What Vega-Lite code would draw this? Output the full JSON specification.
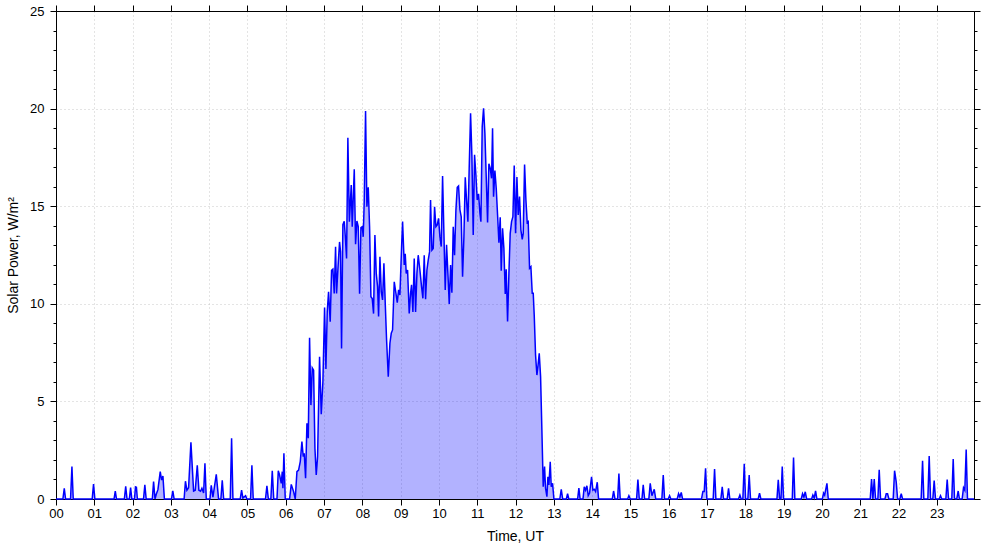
{
  "$schema": "https://vega.github.io/schema/vega-lite/v6.json",
  "width": 918,
  "height": 488,
  "autosize": {"type": "none"},
  "padding": {"left": 56, "top": 11, "right": 11, "bottom": 48},
  "background": "white",
  "config": {
    "view": {"stroke": null},
    "axis": {
      "labelFont": "Liberation Sans",
      "titleFont": "Liberation Sans",
      "labelFontSize": 13,
      "titleFontSize": 14,
      "titleFontWeight": "normal",
      "labelColor": "black",
      "titleColor": "black",
      "domainColor": "black",
      "tickColor": "black",
      "domainWidth": 1,
      "tickWidth": 1,
      "gridColor": "#c8c8c8",
      "gridDash": [1, 3],
      "gridWidth": 1
    }
  },
  "data": {
    "values": [
      {"t":0,"p":0},{"t":0.18,"p":0},{"t":0.216,"p":0.55},{"t":0.25,"p":0},{"t":0.38,"p":0},{"t":0.416,"p":1.66},{"t":0.45,"p":0},
      {"t":0.945,"p":0},{"t":0.98,"p":0.77},{"t":1.015,"p":0},{"t":1.515,"p":0},{"t":1.548,"p":0.4},{"t":1.58,"p":0},
      {"t":1.785,"p":0},{"t":1.82,"p":0.65},{"t":1.855,"p":0},{"t":1.915,"p":0},{"t":1.948,"p":0.58},{"t":1.98,"p":0},
      {"t":2.05,"p":0},{"t":2.075,"p":0.62},{"t":2.1,"p":0.6},{"t":2.125,"p":0},{"t":2.285,"p":0},{"t":2.32,"p":0.73},{"t":2.355,"p":0},
      {"t":2.515,"p":0},{"t":2.548,"p":0.89},{"t":2.585,"p":0},{"t":2.618,"p":0.24},{"t":2.661,"p":0.48},{"t":2.722,"p":1.4},{"t":2.757,"p":0.97},{"t":2.792,"p":1.18},{"t":2.83,"p":0},
      {"t":3.015,"p":0},{"t":3.05,"p":0.41},{"t":3.085,"p":0},{"t":3.345,"p":0},{"t":3.38,"p":0.91},{"t":3.418,"p":0.45},{"t":3.462,"p":0.58},{"t":3.523,"p":2.9},
      {"t":3.593,"p":0.41},{"t":3.636,"p":0.45},{"t":3.689,"p":1.73},{"t":3.731,"p":0.45},{"t":3.775,"p":0.4},{"t":3.81,"p":0.55},{"t":3.854,"p":0.31},{"t":3.889,"p":1.83},{"t":3.924,"p":0},
      {"t":4.02,"p":0},{"t":4.054,"p":0.7},{"t":4.097,"p":0.1},{"t":4.185,"p":1.26},{"t":4.245,"p":0},{"t":4.305,"p":0},{"t":4.341,"p":0.96},{"t":4.378,"p":0},
      {"t":4.55,"p":0},{"t":4.585,"p":3.11},{"t":4.62,"p":0},{"t":4.81,"p":0},{"t":4.846,"p":0.45},{"t":4.88,"p":0.05},{"t":4.95,"p":0.17},{"t":4.985,"p":0},
      {"t":5.08,"p":0},{"t":5.115,"p":1.73},{"t":5.15,"p":0},{"t":5.47,"p":0},{"t":5.507,"p":0.68},{"t":5.545,"p":0},{"t":5.61,"p":0},{"t":5.647,"p":1.45},{"t":5.685,"p":0},
      {"t":5.77,"p":0},{"t":5.804,"p":1.45},{"t":5.838,"p":1.23},{"t":5.882,"p":0.8},{"t":5.908,"p":1.4},{"t":5.925,"p":0.55},{"t":5.951,"p":2.34},{"t":5.986,"p":0},
      {"t":6.099,"p":0},{"t":6.143,"p":0.75},{"t":6.204,"p":0.38},{"t":6.247,"p":0},{"t":6.291,"p":1.4},{"t":6.334,"p":1.48},{"t":6.378,"p":1.91},{"t":6.421,"p":2.94},
      {"t":6.456,"p":2.17},{"t":6.482,"p":2.34},{"t":6.517,"p":1.06},{"t":6.552,"p":3.88},{"t":6.587,"p":3.11},{"t":6.621,"p":8.26},{"t":6.656,"p":4.81},{"t":6.691,"p":6.72},
      {"t":6.726,"p":6.6},{"t":6.761,"p":2.6},{"t":6.795,"p":1.23},{"t":6.83,"p":2.17},{"t":6.882,"p":7.29},{"t":6.926,"p":4.34},{"t":6.969,"p":6.01},{"t":7.013,"p":9.81},
      {"t":7.048,"p":6.66},{"t":7.082,"p":9.59},{"t":7.117,"p":10.61},{"t":7.16,"p":9.08},{"t":7.195,"p":11.72},{"t":7.23,"p":11.78},{"t":7.265,"p":10.53},{"t":7.3,"p":12.92},
      {"t":7.326,"p":10.53},{"t":7.369,"p":12.06},{"t":7.404,"p":13.17},{"t":7.43,"p":12.66},{"t":7.456,"p":7.71},{"t":7.491,"p":14.06},{"t":7.526,"p":14.23},{"t":7.552,"p":13.51},
      {"t":7.587,"p":12.32},{"t":7.621,"p":18.5},{"t":7.66,"p":14.2},{"t":7.709,"p":16.09},{"t":7.735,"p":13.95},{"t":7.788,"p":16.89},{"t":7.822,"p":13.05},{"t":7.857,"p":14.24},
      {"t":7.892,"p":13.95},{"t":7.927,"p":10.52},{"t":7.962,"p":13.9},{"t":7.997,"p":13.95},{"t":8.022,"p":13.43},{"t":8.049,"p":15.32},{"t":8.083,"p":19.88},{"t":8.118,"p":14.97},
      {"t":8.153,"p":15.97},{"t":8.188,"p":13.95},{"t":8.223,"p":10.36},{"t":8.257,"p":10.27},{"t":8.292,"p":9.5},{"t":8.327,"p":13.52},{"t":8.362,"p":11.56},{"t":8.397,"p":10.88},
      {"t":8.423,"p":9.35},{"t":8.458,"p":12.41},{"t":8.493,"p":10.62},{"t":8.527,"p":10.2},{"t":8.562,"p":12.07},{"t":8.597,"p":10.03},{"t":8.632,"p":8.15},{"t":8.676,"p":6.27},
      {"t":8.719,"p":7.98},{"t":8.754,"p":8.49},{"t":8.788,"p":8.66},{"t":8.832,"p":11.13},{"t":8.876,"p":10.54},{"t":8.911,"p":10.06},{"t":8.945,"p":10.71},{"t":8.98,"p":10.45},
      {"t":9.024,"p":12.93},{"t":9.05,"p":14.21},{"t":9.093,"p":11.99},{"t":9.119,"p":12.56},{"t":9.145,"p":11.56},{"t":9.18,"p":11.73},{"t":9.223,"p":9.5},{"t":9.258,"p":10.54},
      {"t":9.284,"p":10.97},{"t":9.319,"p":9.58},{"t":9.354,"p":12.32},{"t":9.389,"p":9.58},{"t":9.424,"p":11.56},{"t":9.458,"p":12.49},{"t":9.502,"p":11.73},{"t":9.545,"p":10.88},
      {"t":9.58,"p":10.28},{"t":9.615,"p":12.49},{"t":9.65,"p":10.24},{"t":9.685,"p":11.73},{"t":9.719,"p":12.24},{"t":9.754,"p":12.66},{"t":9.78,"p":15.32},{"t":9.815,"p":12.75},
      {"t":9.85,"p":12.84},{"t":9.885,"p":14.97},{"t":9.92,"p":13.95},{"t":9.954,"p":14.04},{"t":9.989,"p":14.38},{"t":10.024,"p":13.44},{"t":10.059,"p":12.93},{"t":10.094,"p":16.55},
      {"t":10.129,"p":13.61},{"t":10.163,"p":10.71},{"t":10.198,"p":13.02},{"t":10.233,"p":11.56},{"t":10.268,"p":9.99},{"t":10.303,"p":11.99},{"t":10.337,"p":10.57},{"t":10.372,"p":13.95},
      {"t":10.407,"p":12.49},{"t":10.442,"p":14.8},{"t":10.477,"p":15.97},{"t":10.511,"p":16.04},{"t":10.546,"p":14.83},{"t":10.581,"p":14.46},{"t":10.616,"p":11.39},{"t":10.651,"p":13.44},
      {"t":10.686,"p":16.48},{"t":10.72,"p":15.32},{"t":10.755,"p":14.21},{"t":10.79,"p":17.03},{"t":10.825,"p":19.76},{"t":10.86,"p":17.54},{"t":10.894,"p":13.52},{"t":10.929,"p":17.63},
      {"t":10.964,"p":16.6},{"t":10.999,"p":15.32},{"t":11.034,"p":15.63},{"t":11.069,"p":14.64},{"t":11.095,"p":14.21},{"t":11.129,"p":19.08},{"t":11.164,"p":20.01},{"t":11.199,"p":18.73},
      {"t":11.234,"p":16.5},{"t":11.269,"p":14.16},{"t":11.303,"p":17.17},{"t":11.338,"p":16.95},{"t":11.373,"p":16.43},{"t":11.399,"p":18.99},{"t":11.425,"p":15.49},{"t":11.46,"p":16.83},
      {"t":11.495,"p":15.92},{"t":11.53,"p":14.55},{"t":11.565,"p":13.13},{"t":11.599,"p":14.43},{"t":11.625,"p":11.7},{"t":11.66,"p":13.87},{"t":11.695,"p":12.84},{"t":11.73,"p":10.5},
      {"t":11.756,"p":11.77},{"t":11.791,"p":9.09},{"t":11.826,"p":11.56},{"t":11.86,"p":13.61},{"t":11.895,"p":14.21},{"t":11.93,"p":14.46},{"t":11.965,"p":17.08},{"t":12.0,"p":13.61},
      {"t":12.035,"p":16.5},{"t":12.069,"p":14.55},{"t":12.104,"p":15.49},{"t":12.139,"p":13.78},{"t":12.174,"p":13.3},{"t":12.2,"p":13.61},{"t":12.235,"p":17.13},{"t":12.27,"p":15.32},
      {"t":12.304,"p":14.16},{"t":12.33,"p":14.21},{"t":12.365,"p":11.82},{"t":12.4,"p":11.9},{"t":12.435,"p":10.54},{"t":12.461,"p":10.54},{"t":12.487,"p":9.42},{"t":12.522,"p":7.37},
      {"t":12.557,"p":6.35},{"t":12.583,"p":6.78},{"t":12.618,"p":7.46},{"t":12.653,"p":6.27},{"t":12.687,"p":3.54},{"t":12.722,"p":0.63},{"t":12.757,"p":1.66},{"t":12.783,"p":0.55},
      {"t":12.818,"p":0.12},{"t":12.844,"p":1.14},{"t":12.87,"p":0.72},{"t":12.905,"p":1.91},{"t":12.931,"p":0.63},{"t":12.966,"p":0.8},{"t":13.001,"p":0},
      {"t":13.155,"p":0},{"t":13.193,"p":0.5},{"t":13.23,"p":0},{"t":13.325,"p":0},{"t":13.358,"p":0.27},{"t":13.39,"p":0},{"t":13.62,"p":0},{"t":13.653,"p":0.56},{"t":13.685,"p":0},
      {"t":13.76,"p":0},{"t":13.793,"p":0.62},{"t":13.828,"p":0.45},{"t":13.862,"p":0.68},{"t":13.897,"p":0.17},{"t":13.932,"p":0.3},{"t":13.984,"p":1.14},{"t":14.019,"p":0.45},
      {"t":14.054,"p":0.5},{"t":14.089,"p":0.38},{"t":14.133,"p":0.86},{"t":14.167,"p":0},{"t":14.525,"p":0},{"t":14.559,"p":0.41},{"t":14.595,"p":0},{"t":14.665,"p":0},{"t":14.698,"p":1.31},{"t":14.732,"p":0},
      {"t":14.925,"p":0},{"t":14.959,"p":0.17},{"t":14.995,"p":0},{"t":15.16,"p":0},{"t":15.194,"p":1.0},{"t":15.23,"p":0},{"t":15.3,"p":0},{"t":15.333,"p":0.73},{"t":15.37,"p":0},
      {"t":15.48,"p":0},{"t":15.516,"p":0.8},{"t":15.56,"p":0.17},{"t":15.621,"p":0.5},{"t":15.66,"p":0},{"t":15.82,"p":0},{"t":15.856,"p":1.23},{"t":15.89,"p":0},
      {"t":15.985,"p":0},{"t":16.021,"p":0.17},{"t":16.055,"p":0},{"t":16.22,"p":0},{"t":16.256,"p":0.27},{"t":16.29,"p":0.1},{"t":16.326,"p":0.34},{"t":16.36,"p":0},
      {"t":16.855,"p":0},{"t":16.891,"p":0.39},{"t":16.926,"p":0.39},{"t":16.961,"p":1.57},{"t":16.995,"p":0},{"t":17.16,"p":0},{"t":17.196,"p":1.54},{"t":17.23,"p":0},
      {"t":17.36,"p":0},{"t":17.396,"p":0.62},{"t":17.43,"p":0},{"t":17.525,"p":0},{"t":17.561,"p":0.55},{"t":17.595,"p":0},{"t":17.82,"p":0},{"t":17.857,"p":0.2},{"t":17.89,"p":0},
      {"t":17.935,"p":0},{"t":17.971,"p":1.8},{"t":18.005,"p":0},{"t":18.065,"p":0},{"t":18.1,"p":1.23},{"t":18.135,"p":0},{"t":18.335,"p":0},{"t":18.37,"p":0.3},{"t":18.405,"p":0},
      {"t":18.825,"p":0},{"t":18.859,"p":0.98},{"t":18.895,"p":0},{"t":18.93,"p":0},{"t":18.963,"p":1.66},{"t":18.998,"p":0},{"t":19.225,"p":0},{"t":19.258,"p":2.13},{"t":19.292,"p":0},
      {"t":19.46,"p":0},{"t":19.493,"p":0.27},{"t":19.528,"p":0.1},{"t":19.564,"p":0.37},{"t":19.6,"p":0},{"t":19.73,"p":0},{"t":19.763,"p":0.2},{"t":19.798,"p":0.05},{"t":19.833,"p":0.41},{"t":19.868,"p":0},
      {"t":20.01,"p":0},{"t":20.042,"p":0.3},{"t":20.07,"p":0.2},{"t":20.13,"p":0.8},{"t":20.165,"p":0},
      {"t":21.26,"p":0},{"t":21.295,"p":1.02},{"t":21.33,"p":0},{"t":21.365,"p":1.02},{"t":21.4,"p":0},{"t":21.46,"p":0},{"t":21.495,"p":1.5},{"t":21.53,"p":0},
      {"t":21.645,"p":0},{"t":21.678,"p":0.27},{"t":21.713,"p":0.27},{"t":21.748,"p":0},{"t":21.86,"p":0},{"t":21.896,"p":1.45},{"t":21.939,"p":0.88},{"t":21.975,"p":0},
      {"t":22.035,"p":0},{"t":22.07,"p":0.27},{"t":22.105,"p":0},{"t":22.59,"p":0},{"t":22.627,"p":1.96},{"t":22.66,"p":0},{"t":22.765,"p":0},{"t":22.8,"p":2.2},{"t":22.835,"p":0},
      {"t":22.895,"p":0},{"t":22.93,"p":0.94},{"t":22.965,"p":0},{"t":23.06,"p":0},{"t":23.096,"p":0.17},{"t":23.13,"p":0},{"t":23.235,"p":0},{"t":23.27,"p":1.0},{"t":23.305,"p":0},
      {"t":23.39,"p":0},{"t":23.427,"p":2.05},{"t":23.46,"p":0.05},{"t":23.49,"p":0},{"t":23.52,"p":0},{"t":23.557,"p":0.41},{"t":23.59,"p":0},
      {"t":23.66,"p":0},{"t":23.696,"p":0.58},{"t":23.73,"p":0.45},{"t":23.766,"p":2.54},{"t":23.8,"p":0},{"t":23.97,"p":0}
    ]
  },
  "layer": [
    {
      "mark": {"type": "area", "color": "#0000ff", "fillOpacity": 0.3},
      "encoding": {
        "x": {
          "field": "t", "type": "quantitative",
          "scale": {"domain": [0, 23.97], "nice": false, "zero": false},
          "axis": {
            "orient": "bottom",
            "values": [0,1,2,3,4,5,6,7,8,9,10,11,12,13,14,15,16,17,18,19,20,21,22,23],
            "labelExpr": "datum.value < 10 ? '0' + datum.value : '' + datum.value",
            "grid": true, "tickSize": 6, "labelPadding": 2, "labelFlush": false, "labelOverlap": false,
            "title": "Time, UT", "titlePadding": 9
          }
        },
        "y": {
          "field": "p", "type": "quantitative",
          "scale": {"domain": [0, 25], "nice": false},
          "axis": {
            "orient": "left",
            "values": [0,5,10,15,20,25],
            "grid": true, "tickSize": 6, "labelPadding": 6,
            "title": "Solar Power, W/m²", "titlePadding": 9
          }
        }
      }
    },
    {
      "mark": {"type": "line", "color": "#0000ff", "strokeWidth": 1.5},
      "encoding": {
        "x": {
          "field": "t", "type": "quantitative",
          "axis": {
            "orient": "top",
            "values": [0,1,2,3,4,5,6,7,8,9,10,11,12,13,14,15,16,17,18,19,20,21,22,23],
            "labels": false, "grid": false, "tickSize": 6, "title": null
          }
        },
        "y": {
          "field": "p", "type": "quantitative",
          "axis": {
            "orient": "right",
            "values": [0,5,10,15,20,25],
            "labels": false, "grid": false, "tickSize": 6, "title": null
          }
        }
      }
    },
    {
      "mark": {"type": "line", "strokeOpacity": 0},
      "encoding": {
        "x": {"field": "t", "type": "quantitative", "axis": null},
        "y": {
          "field": "p", "type": "quantitative",
          "axis": {
            "orient": "left",
            "values": [0,1,2,3,4,5,6,7,8,9,10,11,12,13,14,15,16,17,18,19,20,21,22,23,24,25],
            "labels": false, "grid": false, "domain": false, "tickSize": 3, "title": null
          }
        }
      }
    },
    {
      "mark": {"type": "line", "strokeOpacity": 0},
      "encoding": {
        "x": {"field": "t", "type": "quantitative", "axis": null},
        "y": {
          "field": "p", "type": "quantitative",
          "axis": {
            "orient": "right",
            "values": [0,1,2,3,4,5,6,7,8,9,10,11,12,13,14,15,16,17,18,19,20,21,22,23,24,25],
            "labels": false, "grid": false, "domain": false, "tickSize": 3, "title": null
          }
        }
      }
    }
  ],
  "resolve": {"axis": {"x": "independent", "y": "independent"}}
}
